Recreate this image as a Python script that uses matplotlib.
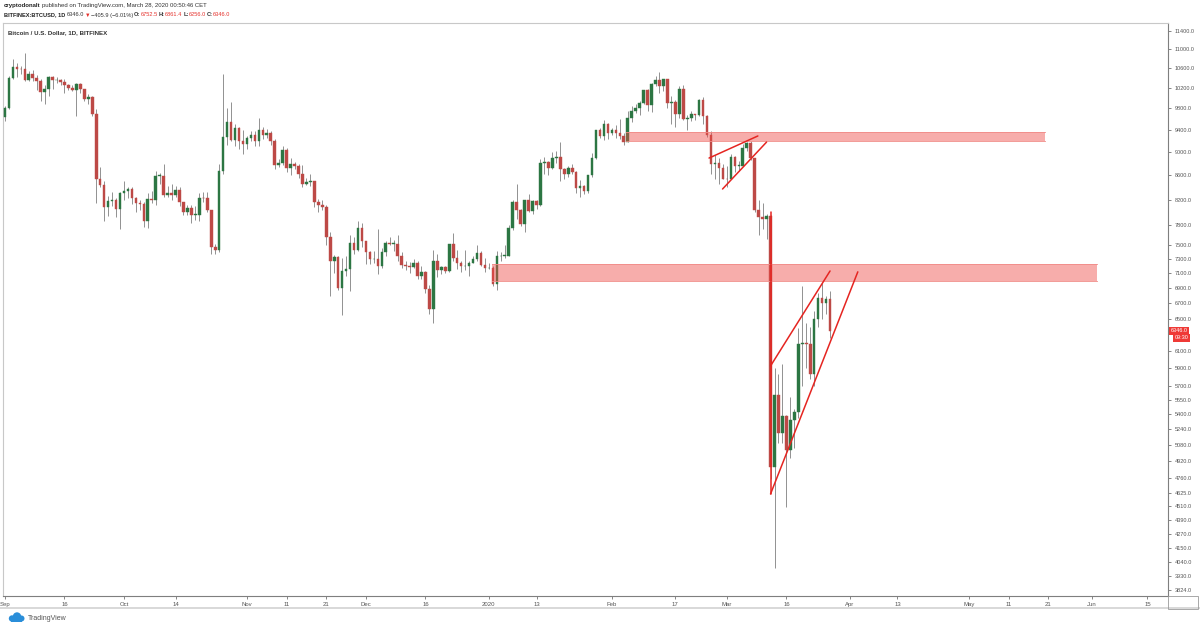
import matplotlib
matplotlib.use("Agg")
import matplotlib.pyplot as plt
import matplotlib.transforms as mtransforms
from matplotlib.patches import Rectangle, Circle
from matplotlib.ticker import FixedLocator, FixedFormatter, NullLocator
import pandas as pd

W, H = 1200, 627
FONT = ["Liberation Sans", "DejaVu Sans"]
plt.rcParams["font.family"] = FONT

# daily BTCUSD candles, Bitfinex, from 2019-09-01 to 2020-03-27
start_date = "2019-09-01"
opens = [
    9630, 9800, 10400, 10630, 10590, 10580, 10350, 10480, 10410, 10330,
    10110, 10170, 10420, 10360, 10360, 10310, 10260, 10190, 10160, 10270,
    10170, 9990, 10030, 9700, 8540, 8440, 8080, 8180, 8200, 8050,
    8310, 8340, 8380, 8230, 8150, 8130, 7860, 8210, 8190, 8590,
    8590, 8270, 8310, 8280, 8360, 8160, 8000, 8070, 7960, 7960,
    8230, 8220, 8030, 7470, 7430, 8670, 9260, 9550, 9210, 9430, 9190,
    9150, 9250, 9310, 9200, 9400, 9300, 9340, 9200, 8770, 8810,
    9040, 8720, 8800, 8760, 8630, 8460, 8490, 8500, 8170, 8120,
    8080, 7620, 7280, 7330, 6900, 7130, 7160, 7530, 7430, 7760,
    7560, 7400, 7300, 7300, 7200, 7400, 7540, 7520, 7520, 7340,
    7220, 7200, 7190, 7250, 7070, 7120, 6890, 6620, 7280, 7150,
    7190, 7140, 7520, 7320, 7250, 7200, 7200, 7250, 7300, 7390, 7220,
    7170, 7180, 6950, 7340, 7350, 7350, 7760, 8160, 8040, 7820,
    8190, 8020, 8180, 8110, 8810, 8820, 8720, 8900, 8920, 8700,
    8630, 8730, 8660, 8390, 8430, 8340, 8600, 8900, 9390, 9290, 9510,
    9350, 9390, 9340, 9290, 9180, 9620, 9760, 9810, 9910, 10160,
    9860, 10270, 10360, 10240, 10370, 9900, 9920, 9700, 10180, 9600,
    9610, 9690, 9670, 9970, 9660, 9310, 8790, 8810, 8720,
    8540, 8530, 8920, 8760, 8760, 9070, 9160, 8900, 8030, 7930,
    7900, 7950, 4860, 5600, 5200, 5370, 5030, 5330, 5420, 6190,
    6200, 6190, 5830, 6490, 6770, 6700, 6752.5,
]
highs = [
    9840, 10440, 10800, 10720, 10640, 10920, 10550, 10560, 10470, 10380,
    10250, 10450, 10450, 10420, 10390, 10380, 10280, 10250, 10300, 10300,
    10180, 10080, 10050, 9790, 8740, 8500, 8260, 8320, 8220, 8330,
    8500, 8400, 8400, 8240, 8190, 8170, 8300, 8340, 8680, 8640,
    8800, 8430, 8450, 8420, 8400, 8170, 8110, 8120, 8100, 8300,
    8330, 8320, 8040, 7520, 8800, 10480, 9800, 9920, 9500, 9450, 9390,
    9290, 9370, 9380, 9620, 9450, 9420, 9380, 9230, 8880, 9100,
    9070, 8900, 8830, 8790, 8780, 8550, 8620, 8510, 8210, 8200,
    8120, 7700, 7360, 7350, 7320, 7350, 7660, 7620, 7860, 7830,
    7560, 7420, 7420, 7750, 7460, 7560, 7630, 7580, 7650, 7400,
    7270, 7260, 7310, 7270, 7200, 7130, 6940, 7430, 7380, 7210,
    7200, 7520, 7690, 7430, 7270, 7430, 7280, 7350, 7500, 7420, 7320,
    7250, 7210, 7420, 7400, 7500, 7800, 8200, 8460, 8050, 8200,
    8290, 8190, 8200, 8880, 8910, 8850, 9000, 9020, 9180, 8730,
    8760, 8790, 8670, 8520, 8440, 8610, 8980, 9400, 9430, 9580, 9530,
    9440, 9480, 9600, 9350, 9760, 9850, 9880, 9950, 10160, 10180,
    10300, 10450, 10520, 10390, 10390, 10050, 9960, 10230, 10250, 9670,
    9760, 9700, 9990, 10020, 9670, 9370, 8950, 8890, 8790,
    8750, 8970, 8930, 8850, 9140, 9170, 9200, 8900, 8200, 8150,
    7980, 7960, 5900, 5830, 5950, 5380, 5580, 5450, 6380, 6930,
    6450, 6400, 6600, 6840, 6970, 6800, 6861.4,
]
lows = [
    9560, 9780, 10370, 10430, 10480, 10330, 10330, 10340, 10150, 9950,
    9880, 10050, 10180, 10290, 10250, 10100, 10150, 10130, 9650, 10100,
    9950, 9880, 9650, 8150, 8400, 7870, 7950, 8100, 7920, 7750,
    8200, 8220, 8130, 8000, 8030, 7780, 7760, 8150, 8110, 8450,
    8250, 8250, 8200, 8240, 8100, 7960, 7960, 7830, 7880, 7870,
    8170, 8000, 7370, 7380, 7400, 8620, 9130, 9200, 9100, 9050, 8970,
    9060, 9200, 9100, 9100, 9240, 9250, 9120, 8700, 8740, 8770,
    8650, 8600, 8700, 8560, 8400, 8440, 8420, 8090, 8000, 8030,
    7500, 6800, 7100, 6880, 6550, 7060, 6860, 7380, 7420, 7480,
    7230, 7230, 7250, 7090, 7170, 7350, 7500, 7420, 7270, 7170,
    7150, 7100, 7180, 7030, 7020, 6830, 6560, 6450, 7050, 7090,
    7100, 7120, 7270, 7160, 7120, 7150, 7060, 7240, 7280, 7200, 7120,
    7160, 6930, 6880, 7280, 7320, 7350, 7730, 7900, 7790, 7700,
    8000, 7970, 8060, 8100, 8620, 8600, 8700, 8810, 8500, 8540,
    8570, 8620, 8300, 8250, 8290, 8300, 8580, 8880, 9250, 9220, 9240,
    9310, 9250, 9230, 9120, 9170, 9540, 9710, 9670, 9880, 9750,
    9730, 10240, 10100, 10130, 9800, 9500, 9460, 9620, 9580, 9400,
    9570, 9580, 9660, 9500, 9270, 8620, 8540, 8450, 8540,
    8410, 8530, 8660, 8680, 8760, 9010, 8860, 8000, 7650, 7750,
    7600, 4750, 3990, 5100, 5100, 4500, 4950, 5050, 5350, 5700,
    5900, 5780, 5700, 6400, 6500, 6560, 6256,
]
closes = [
    9800, 10400, 10630, 10590, 10580, 10350, 10480, 10410, 10330, 10110,
    10170, 10420, 10360, 10360, 10310, 10260, 10190, 10160, 10270, 10170,
    9990, 10030, 9700, 8540, 8440, 8080, 8180, 8200, 8050, 8310,
    8340, 8380, 8230, 8150, 8130, 7860, 8210, 8190, 8590, 8590,
    8270, 8310, 8280, 8360, 8160, 8000, 8070, 7960, 7960, 8230,
    8220, 8030, 7470, 7430, 8670, 9260, 9550, 9210, 9430, 9190, 9150,
    9250, 9310, 9200, 9400, 9300, 9340, 9200, 8770, 8810, 9040,
    8720, 8800, 8760, 8630, 8460, 8490, 8500, 8170, 8120, 8080,
    7620, 7280, 7330, 6900, 7130, 7160, 7530, 7430, 7760, 7560,
    7400, 7300, 7300, 7200, 7400, 7540, 7520, 7520, 7340, 7220,
    7200, 7190, 7250, 7070, 7120, 6890, 6620, 7280, 7150, 7190,
    7140, 7520, 7320, 7250, 7200, 7200, 7250, 7300, 7390, 7220, 7170,
    7180, 6950, 7340, 7350, 7350, 7760, 8160, 8040, 7820, 8190,
    8020, 8180, 8110, 8810, 8820, 8720, 8900, 8920, 8700, 8630,
    8730, 8660, 8390, 8430, 8340, 8600, 8900, 9390, 9290, 9510, 9350,
    9390, 9340, 9290, 9180, 9620, 9760, 9810, 9910, 10160, 9860,
    10270, 10360, 10240, 10370, 9900, 9920, 9700, 10180, 9600, 9610,
    9690, 9670, 9970, 9660, 9310, 8790, 8810, 8720, 8540,
    8530, 8920, 8760, 8760, 9070, 9160, 8900, 8030, 7930, 7900,
    7950, 4860, 5600, 5200, 5370, 5030, 5330, 5420, 6190, 6200,
    6190, 5830, 6490, 6770, 6700, 6750, 6346,
]

# drawings, x given in days since start_date
zone_days = [(156.5, 262.2), (122.8, 275.3)]
zone_prices = [(9200, 9360), (6990, 7230)]
trend_lines = [
    ((177.5, 8895), (189.8, 9287)),
    ((180.9, 8373), (192.0, 9177)),
    ((193.0, 5926), (208.0, 7134)),
    ((193.0, 4615), (215.0, 7122)),
    ((193.0, 8010), (193.0, 4615)),
]

# axis ticks
price_ticks = [11400, 11000, 10600, 10200, 9800, 9400, 9000, 8600, 8200, 7800,
               7500, 7300, 7100, 6900, 6700, 6500, 6100, 5900, 5700, 5550,
               5400, 5240, 5080, 4920, 4760, 4625, 4510, 4390, 4270, 4150,
               4040, 3930, 3824]
date_ticks = ["2019-09-01", "2019-09-16", "2019-10-01", "2019-10-14", "2019-11-01",
              "2019-11-11", "2019-11-21", "2019-12-01", "2019-12-16", "2020-01-01",
              "2020-01-13", "2020-02-01", "2020-02-17", "2020-03-01", "2020-03-16",
              "2020-04-01", "2020-04-13", "2020-05-01", "2020-05-11", "2020-05-21",
              "2020-06-01", "2020-06-15"]
date_labels = ["Sep", "16", "Oct", "14", "Nov", "11", "21", "Dec", "16", "2020",
               "13", "Feb", "17", "Mar", "16", "Apr", "13", "May", "11", "21",
               "Jun", "15"]

last_price = 6346.0
countdown = "09:30"

GREEN = "#2c7643"
RED = "#bd4946"
WICK = "#8a8a8a"
LINE_RED = "#e52521"
TXT = "#555555"

t0 = pd.Timestamp(start_date)


def day_index(d):
    return (pd.Timestamp(d) - t0) / pd.Timedelta(days=1)


fig = plt.figure(figsize=(W / 100, H / 100), dpi=100)
fig.patch.set_facecolor("white")
ax = fig.add_axes([3 / W, 31 / H, 1165 / W, 573 / H])

xs = list(range(len(closes)))
ax.vlines(xs, lows, highs, color=WICK, linewidth=0.65, zorder=2)
body_colors = [GREEN if c >= o else RED for o, c in zip(opens, closes)]
bottoms = [min(o, c) for o, c in zip(opens, closes)]
heights = [max(abs(c - o), 8) for o, c in zip(opens, closes)]
ax.bar(xs, heights, bottom=bottoms, width=0.66, color=body_colors,
       edgecolor=body_colors, linewidth=0.3, zorder=3)

for (x0, x1), (p0, p1) in zip(zone_days, zone_prices):
    ax.add_patch(Rectangle((x0, p0), x1 - x0, p1 - p0, facecolor="#ee4a45",
                           alpha=0.45, edgecolor="none", zorder=4))
    ax.plot([x0, x1], [p0, p0], color="#f08a86", lw=0.6, zorder=4)
    ax.plot([x0, x1], [p1, p1], color="#f08a86", lw=0.6, zorder=4)

for (xa, pa), (xb, pb) in trend_lines:
    ax.plot([xa, xb], [pa, pb], color=LINE_RED, lw=1.1, zorder=5,
            solid_capstyle="round")

ax.set_yscale("log")
ax.set_ylim(3781, 11580)
ax.set_xlim(-0.5, 293.2)
ax.yaxis.set_major_locator(FixedLocator(price_ticks))
ax.yaxis.set_major_formatter(FixedFormatter([f"{p:.1f}" for p in price_ticks]))
ax.yaxis.set_minor_locator(NullLocator())
ax.yaxis.tick_right()
ax.tick_params(axis="y", labelsize=4.0, colors=TXT, length=2.5, width=0.5, pad=2.5)

ax.xaxis.set_major_locator(FixedLocator([day_index(d) for d in date_ticks]))
ax.xaxis.set_major_formatter(FixedFormatter(date_labels))
ax.tick_params(axis="x", labelsize=4.3, colors=TXT, length=2.5, width=0.5, pad=2)

for s in ["left", "top"]:
    ax.spines[s].set_color("#c8c8c8")
    ax.spines[s].set_linewidth(0.8)
for s in ["right", "bottom"]:
    ax.spines[s].set_color("#7f7f7f")
    ax.spines[s].set_linewidth(0.8)

# last price tag on the price scale
blend = mtransforms.blended_transform_factory(ax.transAxes, ax.transData)
ax.text(1.002, last_price, f"{last_price:.1f}", transform=blend, fontsize=4.0,
        color="white", va="center", ha="left",
        bbox=dict(boxstyle="square,pad=0.3", fc="#ef3a36", ec="none"))
ax.text(1.0055, 6262, countdown, transform=blend, fontsize=4.0, color="white",
        va="center", ha="left",
        bbox=dict(boxstyle="square,pad=0.3", fc="#ef3a36", ec="none"))

ax.text(0.004, 0.988, "Bitcoin / U.S. Dollar, 1D, BITFINEX", transform=ax.transAxes,
        fontsize=4.4, color="#333333", fontweight="bold", va="top", ha="left")

# header lines above the chart
renderer = fig.canvas.get_renderer()


def text_row(x_px, y_px, pieces, size):
    x = x_px
    for txt, color, weight, gap in pieces:
        t = fig.text(x / W, 1 - y_px / H, txt, fontsize=size, color=color,
                     fontweight=weight, va="center", ha="left", family=FONT)
        x = t.get_window_extent(renderer).x1 + gap


text_row(4, 6, [("cryptodonalt", "#222222", "bold", 1.5),
                ("published on TradingView.com, March 28, 2020 00:50:46 CET", "#333333", "normal", 0)],
         4.3)
text_row(4, 15, [("BITFINEX:BTCUSD, 1D", "#222222", "bold", 1.2),
                 ("6346.0", "#333333", "normal", 0.6),
                 ("\u25bc", "#e5312c", "normal", 0.6),
                 ("\u2212405.9 (\u22126.01%)", "#333333", "normal", 1.2),
                 ("O:", "#333333", "bold", 0), ("6752.5", "#e5312c", "normal", 1.2),
                 ("H:", "#333333", "bold", 0), ("6861.4", "#e5312c", "normal", 1.2),
                 ("L:", "#333333", "bold", 0), ("6256.0", "#e5312c", "normal", 1.2),
                 ("C:", "#333333", "bold", 0), ("6346.0", "#e5312c", "normal", 0)],
         4.1)

# footer band and logo
fig.add_artist(Rectangle((0, 1 - 609 / H), 1, 2.2 / H, transform=fig.transFigure,
                         facecolor="#d9d9d9", edgecolor="none"))
fig.add_artist(Rectangle((1168 / W, 1 - 609 / H), 30 / W, (609 - 596) / H,
                         transform=fig.transFigure, facecolor="none",
                         edgecolor="#9a9a9a", linewidth=0.6))
ident = mtransforms.IdentityTransform()
for cx, cy, r in [(12, 8.5, 3.2), (17, 10.5, 4.2), (21.5, 8.5, 3.0)]:
    fig.add_artist(Circle((cx, cy), r, transform=ident, facecolor="#2a8ed9",
                          edgecolor="none"))
fig.add_artist(Rectangle((11, 5.3), 11, 4, transform=ident, facecolor="#2a8ed9",
                         edgecolor="none"))
fig.text(28 / W, 1 - 618 / H, "TradingView", fontsize=5.0, color="#555555",
         va="center", ha="left")

fig.savefig("out.png", dpi=100, facecolor="white")
